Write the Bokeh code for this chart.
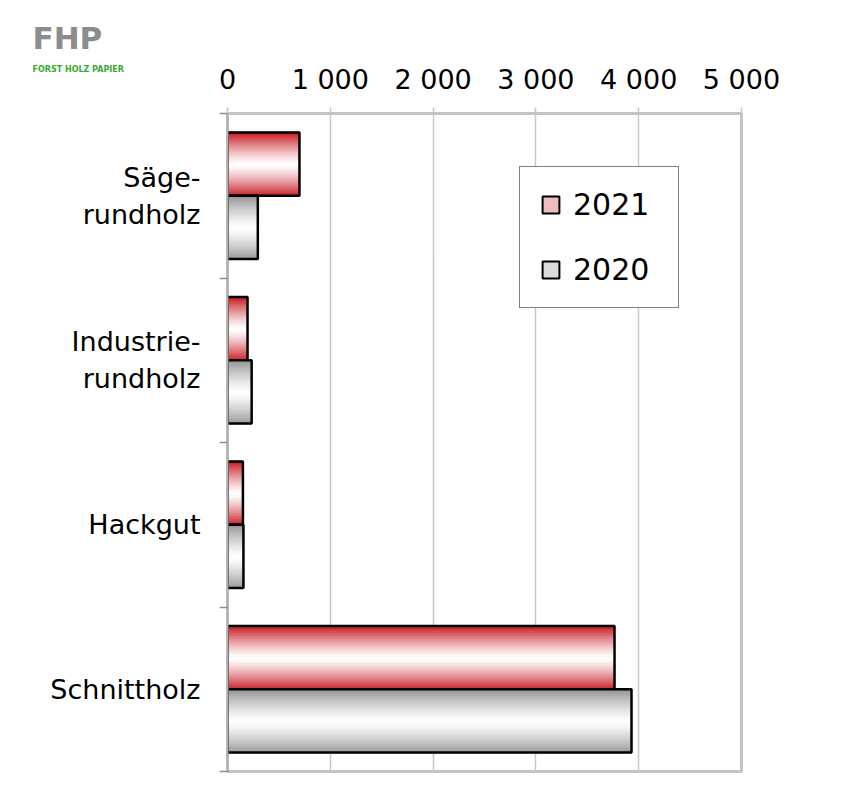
from bokeh.plotting import figure
from bokeh.models import (Range1d, FixedTicker, ColumnDataSource, Title, Legend, LegendItem)
from bokeh.embed import file_html
from bokeh.resources import INLINE

# ---------------- data ----------------
categories = ["Säge-\nrundholz", "Industrie-\nrundholz", "Hackgut", "Schnittholz"]
series_names = ["2021", "2020"]
values_2021 = [700, 195, 150, 3765]
values_2020 = [295, 235, 155, 3930]
x_ticks = [0, 1000, 2000, 3000, 4000, 5000]
x_tick_labels = ["0", "1 000", "2 000", "3 000", "4 000", "5 000"]

FONT = "DejaVu Sans"
W, H = 842, 797
FL, FT = 227, 113  # frame left / top on the page
n_cat = len(categories)
centers = [n_cat - i - 0.5 for i in range(n_cat)]
bar_h = 0.385

p = figure(width=W, height=H, output_backend="svg", toolbar_location=None,
           x_range=Range1d(0, 5000), y_range=Range1d(0, n_cat), x_axis_location="above",
           min_border_left=FL, min_border_right=101, min_border_top=FT, min_border_bottom=26)
p.background_fill_color = "white"
p.border_fill_color = "white"
p.outline_line_color = "#c4c4c4"
p.outline_line_width = 3

# grid
p.xgrid.ticker = FixedTicker(ticks=x_ticks)
p.xgrid.grid_line_color = "#c8c8c8"
p.xgrid.grid_line_width = 1.5
p.ygrid.grid_line_color = None

# x axis (top)
xa = p.xaxis[0]
xa.ticker = FixedTicker(ticks=x_ticks)
xa.major_label_overrides = {t: l for t, l in zip(x_ticks, x_tick_labels)}
xa.major_label_text_font = FONT
xa.major_label_text_font_size = "27px"
xa.major_label_text_color = "black"
xa.axis_line_color = "#c4c4c4"
xa.axis_line_width = 2
xa.major_tick_line_color = "#c4c4c4"
xa.major_tick_line_width = 1.5
xa.major_tick_out = 6
xa.major_tick_in = 0
xa.minor_tick_line_color = None
xa.major_label_standoff = 13

# y axis (left)
ya = p.yaxis[0]
ya.ticker = FixedTicker(ticks=centers, minor_ticks=list(range(n_cat + 1)))
ya.major_label_overrides = {c: l for c, l in zip(centers, categories)}
ya.major_label_text_font = FONT
ya.major_label_text_font_size = "27px"
ya.major_label_text_color = "black"
ya.major_label_text_align = "center"
ya.axis_line_color = "#b0b0b0"
ya.axis_line_width = 2
ya.major_tick_line_color = None
ya.major_tick_out = 0
ya.major_tick_in = 0
ya.minor_tick_line_color = "#909090"
ya.minor_tick_line_width = 1.5
ya.minor_tick_out = 8
ya.minor_tick_in = 0
ya.major_label_standoff = 19


def mix(edge, t):
    r = [int(round(255 * (1 - t) + e * t)) for e in edge]
    return "#%02x%02x%02x" % tuple(r)


# gradient bars built from overlapping strips
N = 40
series = [(values_2021, (200, 28, 36), +bar_h / 2), (values_2020, (150, 150, 150), -bar_h / 2)]
for vals, edge, off in series:
    ys, rights, cols = [], [], []
    for c, v in zip(centers, vals):
        yc = c + off
        for k in range(N):
            pos = (k + 0.5) / N
            t = abs(pos - 0.5) / 0.5
            ys.append(yc - bar_h / 2 + pos * bar_h)
            rights.append(v)
            cols.append(mix(edge, t ** 1.3))
    src = ColumnDataSource(dict(y=ys, right=rights, color=cols))
    p.hbar(y="y", right="right", left=0, height=bar_h / N * 1.8, fill_color="color",
           line_color=None, source=src)
    p.hbar(y=[c + off for c in centers], right=vals, left=0, height=bar_h,
           fill_color=None, line_color="black", line_width=2.5)

# legend with dummy renderers (placed outside the visible range)
r21 = p.hbar(y=[-10], right=[1], height=0.1, fill_color="#eebcbc", line_color="black", line_width=2)
r20 = p.hbar(y=[-10], right=[1], height=0.1, fill_color="#dcdcdc", line_color="black", line_width=2)
legend = Legend(items=[LegendItem(label=series_names[0], renderers=[r21]),
                       LegendItem(label=series_names[1], renderers=[r20])],
                location=(519 - FL, 771 - 308))
legend.label_text_font = FONT
legend.label_text_font_size = "30px"
legend.label_text_color = "black"
legend.glyph_width = 21
legend.glyph_height = 21
legend.label_height = 35
legend.label_width = 85
legend.label_standoff = 12
legend.spacing = 30
legend.padding = 20
legend.margin = 0
legend.border_line_color = "black"
legend.border_line_width = 1.5
legend.background_fill_color = "white"
legend.background_fill_alpha = 1
p.add_layout(legend)

# logo texts (as titles in the top panel, shifted left over the corner)
p.add_layout(Title(text="FORST HOLZ PAPIER", align="left", offset=33 - FL - 1, standoff=-26,
                   text_font=FONT, text_font_style="bold", text_font_size="8px",
                   text_color="#3aa935"), "above")
p.add_layout(Title(text="FHP", align="left", offset=33 - FL - 1, standoff=10,
                   text_font=FONT, text_font_style="bold", text_font_size="31px",
                   text_color="#8c8c8c"), "above")

out = open("out.html", "w")
out.write(file_html(p, INLINE))
out.close()
